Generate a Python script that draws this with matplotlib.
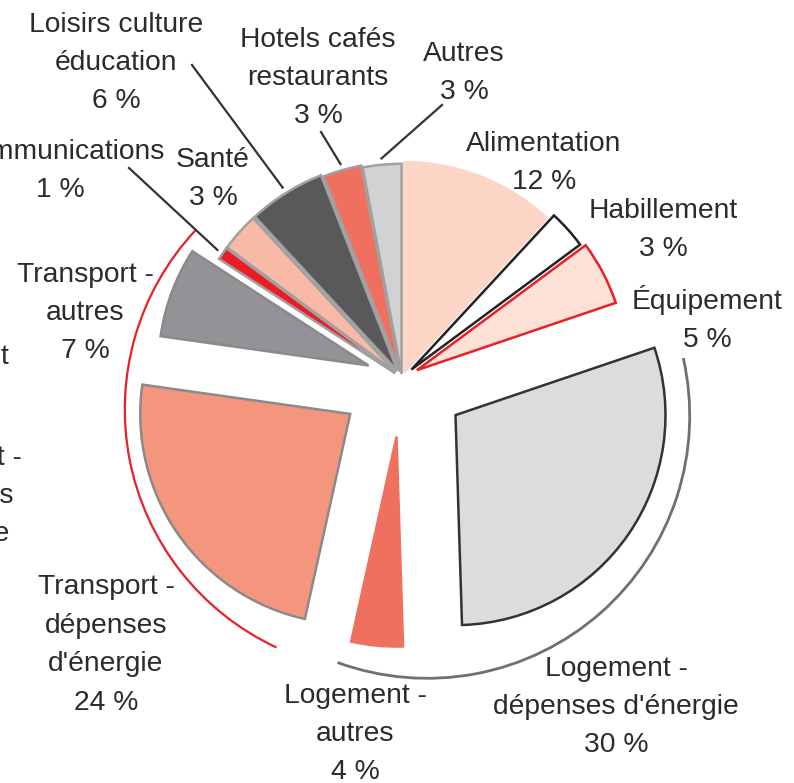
import numpy as np
import matplotlib.pyplot as plt
from matplotlib.patches import Arc

plt.rcParams['font.family'] = ['Liberation Sans', 'DejaVu Sans']

# Données : répartition des dépenses (%)
labels = ['Alimentation', 'Habillement', 'Équipement',
          "Logement -\ndépenses d'énergie", 'Logement -\nautres',
          "Transport -\ndépenses\nd'énergie", 'Transport -\nautres',
          'Communications', 'Santé', 'Loisirs culture\néducation',
          'Hotels cafés\nrestaurants', 'Autres']
shares = [12, 3, 5, 30, 4, 24, 7, 1, 3, 6, 3, 3]

colors = ['#fcd5c6', '#ffffff', '#fde0d6', '#dcdcde', '#f07060', '#f4957e',
          '#939397', '#ed1c24', '#f8b9a6', '#59595b', '#f07060', '#d1d2d4']
edges = ['#fcd5c6', '#222222', '#e8202a', '#333333', '#f07060', '#8a8a8a',
         '#8a8a8a', '#a0a0a0', '#a0a0a0', '#a0a0a0', '#a0a0a0', '#a0a0a0']
explode = [0.03, 0.06, 0.08, 0.31, 0.28, 0.30, 0.17, 0.04, 0.04, 0.04, 0.03, 0.02]

# position des étiquettes (pixels de l'image, origine en haut à gauche)
label_pos = [(544, 163), (663, 230), (707, 319), (616, 707), (355, 734),
             (106, 645), (85, 313), (60, 171), (213, 179), (116, 63),
             (318, 78), (464, 73)]
# traits de rappel : index -> point de départ près du texte
leaders = {7: (129, 168), 9: (192, 65), 10: (321, 132), 11: (442, 105)}

W, H = 794, 783
CENTER = (402, H - 378)
R = 210

fig = plt.figure(figsize=(W / 100, H / 100), dpi=100)
ax = fig.add_axes([0, 0, 1, 1])

# explode de matplotlib est en unités de données -> multiplier par le rayon
wedges, _ = ax.pie(shares, explode=[e * R for e in explode], colors=colors,
                   startangle=90, counterclock=False, center=CENTER, radius=R,
                   wedgeprops=dict(linewidth=1.8))
for w, ec in zip(wedges, edges):
    w.set_edgecolor(ec)

# arcs entourant les groupes Logement et Transport
# (indices, couleur, épaisseur, décalage du centre, décalage des angles)
rings = [([3, 4], '#707070', 2.0, (0.12, -0.18), (-7.5, -6)),
         ([5, 6], '#e8202a', 1.6, (-0.07, -0.15), (-10, -12.5))]
for idx, col, lw, (dx, dy), (p1, p2) in rings:
    t1 = min(min(wedges[i].theta1, wedges[i].theta2) for i in idx) + p1
    t2 = max(max(wedges[i].theta1, wedges[i].theta2) for i in idx) + p2
    ax.add_patch(Arc((CENTER[0] + dx * R, CENTER[1] + dy * R), 2.5 * R, 2.5 * R,
                     theta1=t1, theta2=t2, color=col, lw=lw))

text_kw = dict(fontsize=20.3, color='#2b2b2b', ha='center', va='center',
               linespacing=1.62)
for i, (lab, v) in enumerate(zip(labels, shares)):
    x, y = label_pos[i]
    ax.text(x, H - y, '%s\n%d %%' % (lab, v), **text_kw)

for i, (sx, sy) in leaders.items():
    w = wedges[i]
    mid = np.deg2rad((w.theta1 + w.theta2) / 2)
    ex = w.center[0] + 1.03 * w.r * np.cos(mid)
    ey = w.center[1] + 1.03 * w.r * np.sin(mid)
    ax.plot([sx, ex], [H - sy, ey], color='#333333', lw=1.6)

# étiquettes coupées du graphique voisin
ax.text(-47, H - 496, "Transport -\ndépenses\nd'énergie", **text_kw)
ax.text(9, H - 355, 'Équipement', fontsize=20.3, color='#2b2b2b',
        ha='right', va='center')

ax.set_xlim(0, W)
ax.set_ylim(0, H)
ax.set_aspect('equal')
ax.axis('off')

fig.savefig('out.png', dpi=100)
